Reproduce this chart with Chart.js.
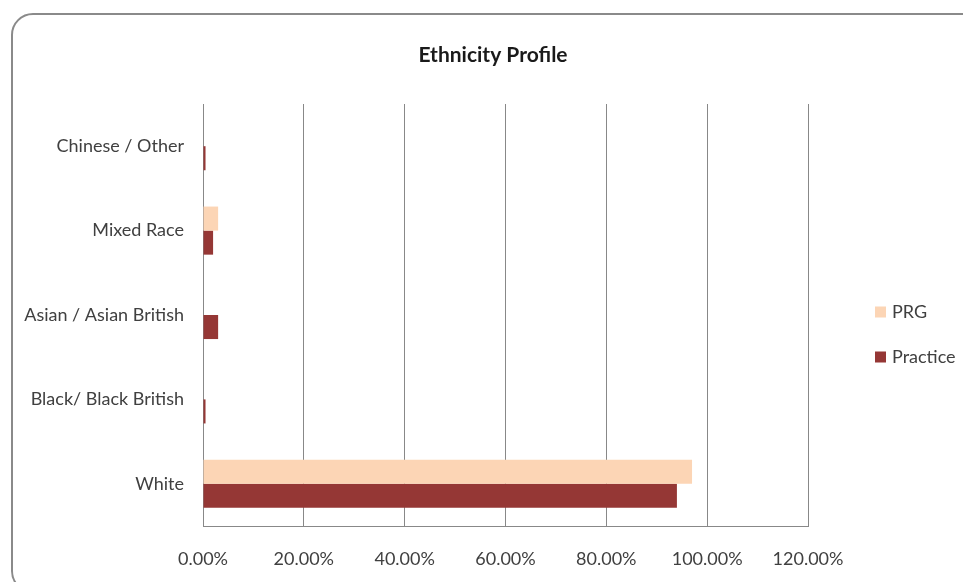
<!DOCTYPE html>
<html>
<head>
<meta charset="utf-8">
<script src="https://cdn.jsdelivr.net/npm/chart.js@4"></script>
<style>
  html, body { margin: 0; padding: 0; background: #fff; overflow: hidden; }
  #wrap { position: relative; width: 963px; height: 582px; }
  #frame {
    position: absolute; left: 11px; top: 13px; width: 1000px; height: 580px;
    border: 2px solid #8a8a8a; border-radius: 22px; box-sizing: border-box;
  }
  canvas { position: absolute; left: 0; top: 0; }
</style>
</head>
<body>
<div id="wrap">
  <div id="frame"></div>
  <canvas id="chart" width="963" height="582"></canvas>
</div>
<script>
// Ethnicity groups, listed top to bottom
const categories = ['Chinese / Other', 'Mixed Race', 'Asian / Asian British', 'Black/ Black British', 'White'];
// Share of each group, in percent
const prgValues = [0, 3, 0, 0, 97];
const practiceValues = [0.5, 2, 3, 0.5, 94];
const seriesNames = ['PRG', 'Practice'];
const xTicks = [0, 20, 40, 60, 80, 100, 120];
const chartTitle = 'Ethnicity Profile';

const FONT = 'Lato, "Open Sans", sans-serif';
const TEXT = '#404040';

// Title centred on the whole frame, plus a vertical legend right of the plot
const decorations = {
  id: 'decorations',
  afterDraw(chart) {
    const ctx = chart.ctx;
    ctx.save();
    ctx.textBaseline = 'middle';
    ctx.textAlign = 'center';
    ctx.fillStyle = '#1a1a1a';
    ctx.font = 'bold 21px ' + FONT;
    ctx.fillText(chartTitle, 493, 55);

    ctx.font = '18px ' + FONT;
    ctx.textAlign = 'left';
    chart.data.datasets.forEach((ds, i) => {
      const cy = 312 + i * 45;
      ctx.fillStyle = ds.backgroundColor;
      ctx.fillRect(875, cy - 5.5, 11, 11);
      ctx.fillStyle = TEXT;
      ctx.fillText(ds.label, 892, cy);
    });
    ctx.restore();
  }
};

new Chart(document.getElementById('chart'), {
  type: 'bar',
  data: {
    labels: categories,
    datasets: [
      { label: seriesNames[0], data: prgValues, backgroundColor: '#FCD5B5' },
      { label: seriesNames[1], data: practiceValues, backgroundColor: '#953735' }
    ]
  },
  options: {
    indexAxis: 'y',
    responsive: false,
    animation: false,
    devicePixelRatio: 1,
    categoryPercentage: 0.57,
    barPercentage: 1.0,
    layout: { padding: { left: 0, right: 155, top: 104, bottom: 0 } },
    plugins: {
      legend: { display: false },
      tooltip: { enabled: false },
      title: { display: false }
    },
    scales: {
      x: {
        min: 0, max: 120,
        afterBuildTicks(scale) { scale.ticks = xTicks.map(v => ({ value: v })); },
        afterFit(scale) { scale.height = 56; },
        ticks: {
          color: TEXT,
          padding: 22,
          font: { family: FONT, size: 18 },
          callback: v => Number(v).toFixed(2) + '%'
        },
        grid: { color: '#888888', lineWidth: 1, drawTicks: false },
        border: { color: '#888888', width: 1 }
      },
      y: {
        afterFit(scale) { scale.width = 203; },
        ticks: {
          color: TEXT,
          padding: 19,
          font: { family: FONT, size: 18 }
        },
        grid: { display: false, drawTicks: false },
        border: { color: '#888888', width: 1 }
      }
    }
  },
  plugins: [decorations]
});
</script>
</body>
</html>
